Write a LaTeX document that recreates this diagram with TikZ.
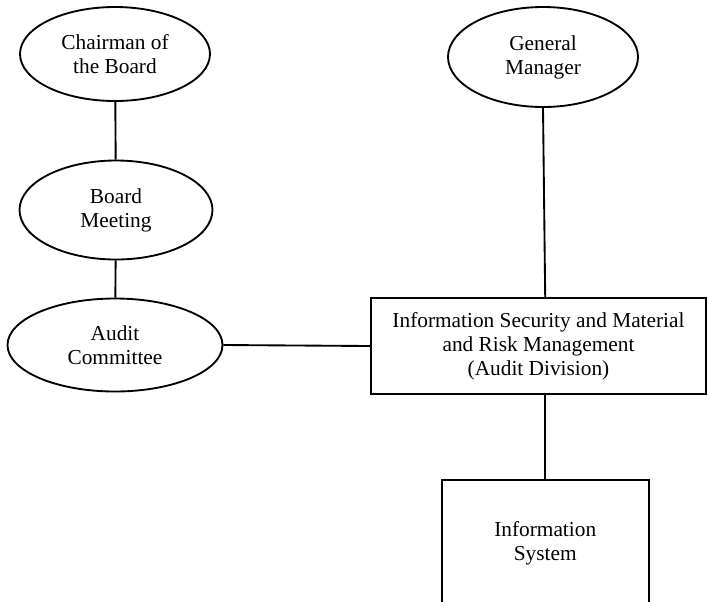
\documentclass[tikz,border=0pt]{standalone}
\usepackage{fontspec}
\setmainfont{Liberation Serif}
\usetikzlibrary{shapes.geometric}
\begin{document}
\begin{tikzpicture}[x=0.75pt,y=-0.75pt,
  every node/.style={font=\fontsize{16}{18}\selectfont, align=center, inner sep=0pt},
  oval/.style={ellipse, draw, line width=1.4pt},
  unit/.style={rectangle, draw, line width=1.4pt},
  link/.style={line width=1.4pt}]
  \useasboundingbox (0,0) rectangle (709,601);
  \clip (0,0) rectangle (709,601);
  % governance chain on the left
  \node[oval, minimum width=142.5pt, minimum height=70.5pt] (chair) at (115,54) {Chairman of\\the Board};
  \node[oval, minimum width=144.75pt, minimum height=74.25pt] (board) at (116,210) {Board\\Meeting};
  \node[oval, minimum width=161.25pt, minimum height=69.75pt] (audit) at (115,345) {Audit\\Committee};
  % management side
  \node[oval, minimum width=142.5pt, minimum height=75pt] (gm) at (543,57) {General\\Manager};
  \node[unit, minimum width=251.25pt, minimum height=72pt] (isec) at (538.5,346) {Information Security and Material\\and Risk Management\\(Audit Division)};
  \node[unit, minimum width=155.25pt, minimum height=94.5pt] (sys) at (545.2,543) {Information\\System};
  % connectors
  \draw[link] (chair) -- (board);
  \draw[link] (board) -- (audit);
  \draw[link] (audit.east) -- (isec.west);
  \draw[link] (gm.south) -- (isec.north -| sys.north);
  \draw[link] (isec.south -| sys.north) -- (sys.north);
\end{tikzpicture}
\end{document}
